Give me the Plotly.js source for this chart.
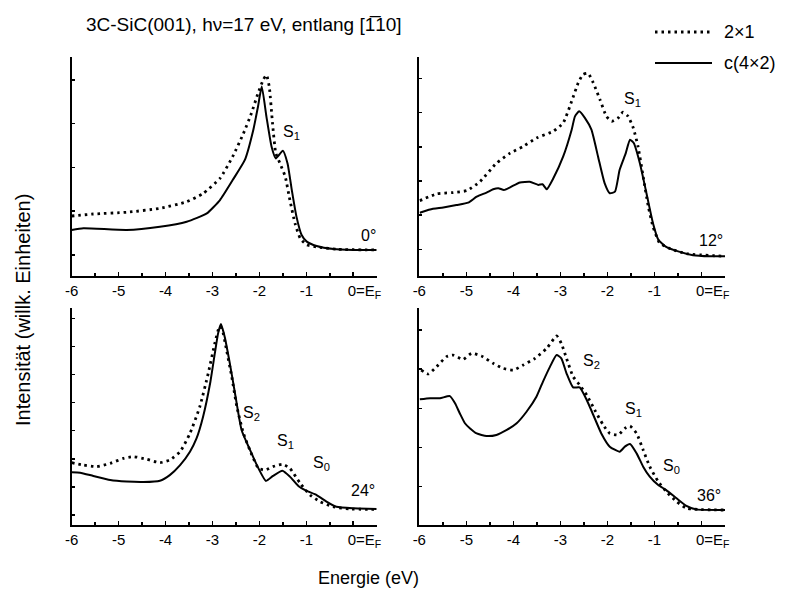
<!DOCTYPE html>
<html>
<head>
<meta charset="utf-8">
<script src="https://cdn.plot.ly/plotly-3.0.1.min.js"></script>
<style>html,body{margin:0;padding:0;background:#fff}#chart{width:793px;height:595px}</style>
</head>
<body>
<div id="chart"></div>
<script>
// ---- Data (energy in eV, intensity in arbitrary units, 0..100 per panel) ----
const tickValsE = [-6, -5, -4, -3, -2, -1, 0];
const tickTextE = ['-6', '-5', '-4', '-3', '-2', '-1', '\u2002\u2002\u20020=E<sub>F</sub>'];
const seriesNames = ['2\u00d71', 'c(4\u00d72)'];

// 0 degree
const E1s = [-6, -5.75, -4.83, -4.12, -3.55, -3.12, -2.84, -2.57, -2.31, -2.13, -2.03, -1.95, -1.85, -1.74, -1.65, -1.50, -1.40, -1.31, -1.21, -1.10, -0.99, -0.78, -0.42, 0.0, 0.5];
const V1s = [21.0, 21.8, 21.0, 22.5, 24.8, 28.6, 34.7, 43.8, 53.0, 66.7, 77.3, 86.5, 72.8, 59.0, 53.7, 57.2, 51.4, 39.3, 27.1, 18.7, 15.7, 13.7, 12.3, 11.9, 11.9];
const E1d = [-6, -5.54, -4.83, -4.12, -3.55, -3.2, -2.84, -2.57, -2.34, -2.17, -2.03, -1.92, -1.85, -1.79, -1.72, -1.65, -1.56, -1.45, -1.35, -1.24, -1.13, -0.99, -0.71, -0.35, 0.5];
const V1d = [27.4, 28.3, 29.1, 30.9, 33.9, 37.7, 44.6, 54.5, 65.1, 74.3, 83.4, 89.5, 91.8, 86.5, 69.7, 56.0, 51.4, 45.4, 34.7, 24.0, 17.2, 14.2, 13.1, 12.2, 11.9];

// 12 degree
const E2s = [-5.99, -5.77, -5.49, -5.21, -4.96, -4.78, -4.57, -4.43, -4.32, -4.2, -4.07, -3.86, -3.65, -3.47, -3.38, -3.29, -3.15, -2.94, -2.76, -2.69, -2.60, -2.48, -2.34, -2.20, -2.06, -1.95, -1.84, -1.74, -1.61, -1.52, -1.44, -1.31, -1.17, -1.03, -0.92, -0.75, -0.46, -0.18, 0.18, 0.5];
const V2s = [28.9, 30.4, 31.3, 32.4, 33.5, 36.2, 38.1, 39.6, 40.1, 39.3, 40.5, 42.7, 43.0, 41.6, 41.9, 39.6, 44.6, 54.6, 66.8, 72.9, 75.2, 72.2, 66.8, 54.6, 42.4, 37.8, 38.5, 48.5, 56.1, 62.2, 60.7, 51.5, 37.8, 24.0, 16.7, 13.3, 11.0, 9.5, 9.0, 9.0];
const E2d = [-5.99, -5.63, -5.28, -4.99, -4.71, -4.36, -4.07, -3.79, -3.51, -3.15, -2.94, -2.76, -2.62, -2.52, -2.41, -2.30, -2.16, -2.02, -1.91, -1.77, -1.67, -1.56, -1.45, -1.35, -1.24, -1.13, -1.03, -0.89, -0.67, -0.32, 0.5];
const V2d = [34.4, 37.5, 38.1, 39.0, 43.1, 51.5, 56.1, 59.2, 63.0, 66.1, 69.9, 79.8, 88.2, 92.0, 92.5, 88.2, 80.6, 72.9, 70.6, 72.2, 74.8, 72.9, 67.6, 59.2, 45.4, 31.7, 22.5, 15.1, 12.5, 10.2, 9.0];

// 24 degree
const E3s = [-6, -5.82, -5.54, -5.18, -4.83, -4.47, -4.12, -3.91, -3.69, -3.48, -3.34, -3.2, -3.05, -2.95, -2.88, -2.82, -2.74, -2.63, -2.52, -2.38, -2.20, -2.02, -1.86, -1.71, -1.51, -1.35, -1.17, -1.0, -0.78, -0.57, -0.36, 0, 0.5];
const V3s = [24.3, 24.1, 22.6, 20.7, 20.0, 19.8, 20.4, 23.0, 27.6, 33.8, 39.9, 49.9, 65.3, 79.1, 88.3, 92.6, 86.8, 74.5, 60.7, 43.8, 34.6, 26.1, 20.3, 22.6, 25.0, 22.3, 18.0, 15.8, 13.8, 10.8, 8.4, 7.7, 7.4];
const E3d = [-6, -5.75, -5.47, -5.18, -4.9, -4.69, -4.4, -4.12, -3.91, -3.69, -3.48, -3.27, -3.09, -2.95, -2.85, -2.8, -2.7, -2.59, -2.48, -2.34, -2.16, -2.02, -1.88, -1.71, -1.51, -1.35, -1.13, -0.92, -0.71, -0.43, -0.07, 0.5];
const V3d = [28.7, 27.6, 26.9, 28.4, 30.7, 31.5, 30.3, 28.7, 30.0, 33.8, 42.2, 54.5, 69.9, 83.7, 91.4, 90.6, 80.6, 68.4, 54.5, 42.2, 32.3, 26.1, 25.3, 26.9, 28.0, 26.1, 19.2, 13.8, 10.8, 8.4, 7.4, 7.2];

// 36 degree
const E4s = [-5.99, -5.77, -5.56, -5.35, -5.24, -5.14, -5.03, -4.92, -4.78, -4.57, -4.36, -4.14, -3.93, -3.72, -3.51, -3.37, -3.22, -3.08, -2.98, -2.87, -2.73, -2.59, -2.44, -2.30, -2.13, -1.95, -1.74, -1.63, -1.52, -1.38, -1.24, -1.10, -0.92, -0.75, -0.53, -0.32, -0.11, 0.5];
const V4s = [57.9, 58.4, 58.4, 59.4, 56.1, 51.5, 46.9, 44.5, 42.2, 41.0, 41.5, 43.8, 46.9, 52.2, 59.1, 66.1, 73.0, 78.3, 76.8, 69.9, 63.4, 63.4, 57.6, 50.7, 42.2, 36.1, 33.8, 36.1, 37.3, 33.0, 26.9, 22.3, 18.4, 16.1, 12.3, 8.8, 7.2, 6.9];
const E4d = [-5.96, -5.81, -5.63, -5.42, -5.28, -5.07, -4.89, -4.68, -4.43, -4.22, -4.0, -3.79, -3.54, -3.29, -3.08, -2.98, -2.87, -2.73, -2.59, -2.44, -2.27, -2.09, -1.95, -1.77, -1.63, -1.52, -1.38, -1.24, -1.10, -0.92, -0.75, -0.53, -0.32, 0.5];
const V4d = [71.4, 69.6, 73.0, 77.6, 78.3, 76.3, 79.1, 77.9, 74.5, 72.2, 71.4, 73.7, 76.8, 81.4, 87.1, 83.7, 76.8, 68.4, 64.5, 59.9, 53.0, 46.1, 42.2, 41.5, 44.5, 45.6, 42.2, 34.6, 26.9, 20.0, 15.4, 10.8, 7.7, 6.9];

// panel annotations: [text, E, value]
const labels1 = [['S<sub>1</sub>', -1.31, 65.3], ['0\u00b0', 0.32, 18.7]];
const labels2 = [['S<sub>1</sub>', -1.46, 80.6], ['12\u00b0', 0.21, 16.4]];
const labels3 = [['S<sub>2</sub>', -2.16, 51.5], ['S<sub>1</sub>', -1.45, 38.4], ['S<sub>0</sub>', -0.67, 28.4], ['24\u00b0', 0.21, 16.1]];
const labels4 = [['S<sub>2</sub>', -2.34, 75.3], ['S<sub>1</sub>', -1.45, 53.0], ['S<sub>0</sub>', -0.64, 26.9], ['36\u00b0', 0.17, 13.8]];

// ---- Build figure ----
const FONT = 'Liberation Sans, Arial, sans-serif';
const dotLine = {color: '#000', width: 2.8, dash: '2.5px,4px', shape: 'spline', smoothing: 0.5};
const solidLine = {color: '#000', width: 2, shape: 'spline', smoothing: 0.5};

const panels = [
  {Es: E1s, Vs: V1s, Ed: E1d, Vd: V1d, labels: labels1, xa: 'x', ya: 'y'},
  {Es: E2s, Vs: V2s, Ed: E2d, Vd: V2d, labels: labels2, xa: 'x2', ya: 'y2'},
  {Es: E3s, Vs: V3s, Ed: E3d, Vd: V3d, labels: labels3, xa: 'x3', ya: 'y3'},
  {Es: E4s, Vs: V4s, Ed: E4d, Vd: V4d, labels: labels4, xa: 'x4', ya: 'y4'}
];

const traces = [];
const annotations = [];
panels.forEach(p => {
  traces.push({x: p.Ed, y: p.Vd, xaxis: p.xa, yaxis: p.ya, mode: 'lines', line: dotLine, name: seriesNames[0], showlegend: false, hoverinfo: 'skip'});
  traces.push({x: p.Es, y: p.Vs, xaxis: p.xa, yaxis: p.ya, mode: 'lines', line: solidLine, name: seriesNames[1], showlegend: false, hoverinfo: 'skip'});
  p.labels.forEach(l => annotations.push({text: l[0], x: l[1], y: l[2], xref: p.xa, yref: p.ya, showarrow: false, font: {family: FONT, size: 16, color: '#000'}}));
});

const W = 793, H = 595;
const xdomL = [71.7 / W, 376.7 / W], xdomR = [419.3 / W, 725 / W];
const ydomT = [1 - 276 / H, 1 - 57 / H], ydomB = [1 - 525 / H, 1 - 308 / H];

function xax(domain, anchor) {
  return {domain: domain, anchor: anchor, range: [-6, 0.5], showline: true, linewidth: 2, linecolor: '#000',
    ticks: 'inside', ticklen: 4, tickwidth: 1.5, tickcolor: '#000', tickmode: 'array', tickvals: tickValsE, ticktext: tickTextE,
    tickfont: {family: FONT, size: 15, color: '#000'}, showgrid: false, zeroline: false, fixedrange: true,
    minor: {ticks: 'inside', ticklen: 3, tickwidth: 1.5, tickcolor: '#000', tickvals: [-5.5, -4.5, -3.5, -2.5, -1.5, -0.5], showgrid: false}};
}
function yax(domain, anchor, t0, dt) {
  return {domain: domain, anchor: anchor, range: [0, 100], showline: true, linewidth: 2, linecolor: '#000',
    ticks: 'inside', ticklen: 3, tickwidth: 1.5, tickcolor: '#000', tickmode: 'linear', tick0: t0, dtick: dt,
    showticklabels: false, showgrid: false, zeroline: false, fixedrange: true};
}

annotations.push({text: '3C-SiC(001), h\u03bd=17 eV, entlang [1\u030510]', xref: 'paper', yref: 'paper', x: 84 / W, y: 1 - 25 / H, xanchor: 'left', yanchor: 'middle', showarrow: false, font: {family: FONT, size: 19, color: '#000'}});
annotations.push({text: 'Intensit\u00e4t (willk. Einheiten)', xref: 'paper', yref: 'paper', x: 23 / W, y: 1 - 310 / H, textangle: -90, showarrow: false, xanchor: 'center', yanchor: 'middle', font: {family: FONT, size: 20, color: '#000'}});
annotations.push({text: 'Energie (eV)', xref: 'paper', yref: 'paper', x: 368 / W, y: 1 - 578 / H, showarrow: false, xanchor: 'center', yanchor: 'middle', font: {family: FONT, size: 18, color: '#000'}});
// legend texts
annotations.push({text: seriesNames[0], xref: 'paper', yref: 'paper', x: 722 / W, y: 1 - 32 / H, xanchor: 'left', yanchor: 'middle', showarrow: false, font: {family: FONT, size: 18, color: '#000'}});
annotations.push({text: seriesNames[1], xref: 'paper', yref: 'paper', x: 722 / W, y: 1 - 63 / H, xanchor: 'left', yanchor: 'middle', showarrow: false, font: {family: FONT, size: 18, color: '#000'}});

const shapes = [
  {type: 'line', xref: 'paper', yref: 'paper', x0: 655 / W, x1: 712 / W, y0: 1 - 32 / H, y1: 1 - 32 / H, line: {color: '#000', width: 2.8, dash: '2.5px,4px'}},
  {type: 'line', xref: 'paper', yref: 'paper', x0: 655 / W, x1: 712 / W, y0: 1 - 63 / H, y1: 1 - 63 / H, line: {color: '#000', width: 2}}
];

const layout = {
  width: W, height: H, margin: {l: 0, r: 0, t: 0, b: 0}, paper_bgcolor: '#fff', plot_bgcolor: 'rgba(0,0,0,0)',
  showlegend: false, font: {family: FONT, color: '#000'},
  xaxis: xax(xdomL, 'y'), yaxis: yax(ydomT, 'x', 9.6, 20),
  xaxis2: xax(xdomR, 'y2'), yaxis2: yax(ydomT, 'x2', 12.2, 15.6),
  xaxis3: xax(xdomL, 'y3'), yaxis3: yax(ydomB, 'x3', 4.6, 12.95),
  xaxis4: xax(xdomR, 'y4'), yaxis4: yax(ydomB, 'x4', -0.4, 18.05),
  annotations: annotations, shapes: shapes
};

Plotly.newPlot('chart', traces, layout, {staticPlot: true, displayModeBar: false});
</script>
</body>
</html>
